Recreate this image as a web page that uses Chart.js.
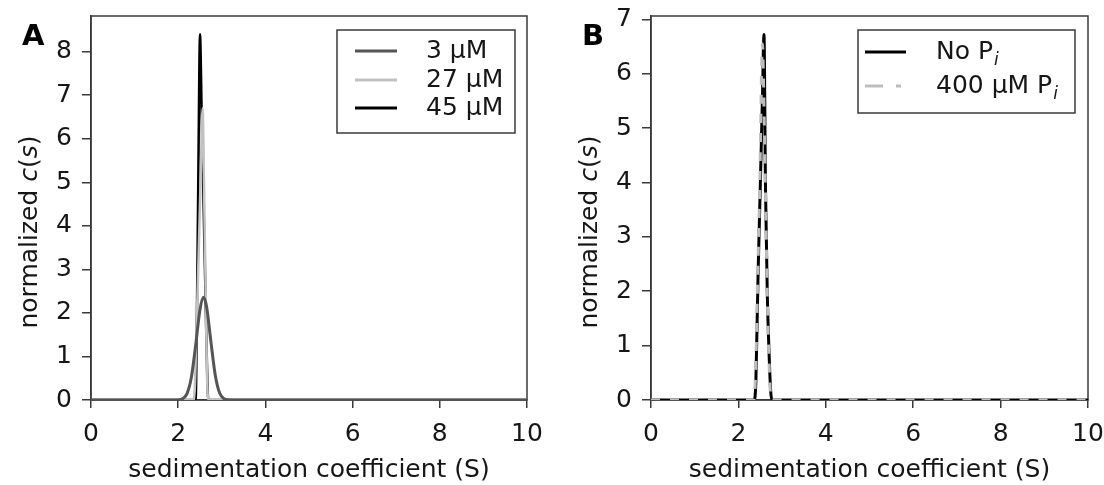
<!DOCTYPE html>
<html><head><meta charset="utf-8">
<script src="https://cdn.jsdelivr.net/npm/chart.js@4.4.1/dist/chart.umd.min.js"></script>
<style>
html,body{margin:0;padding:0;background:#fff;overflow:hidden}
#wrap{position:relative;width:1104px;height:485px}
canvas{position:absolute;top:0}
#cA{left:0}
#cB{left:560px}
</style></head><body>
<div id="wrap"><canvas id="cA" width="560" height="485"></canvas><canvas id="cB" width="544" height="485"></canvas></div>
<script>
// ---- tick labels ----
const xTicks = [0, 2, 4, 6, 8, 10];
const yTicksA = [0, 1, 2, 3, 4, 5, 6, 7, 8];
const yTicksB = [0, 1, 2, 3, 4, 5, 6, 7];

// ---- Panel A series (sedimentation coefficient S, normalized c(s)) ----
const sA_3uM  = [0, 1.9, 2.0, 2.1, 2.2, 2.3, 2.4, 2.5, 2.58, 2.65, 2.75, 2.85, 2.95, 3.05, 3.15, 3.3, 10];
const cA_3uM  = [0, 0, 0.003, 0.03, 0.14, 0.51, 1.25, 2.08, 2.36, 2.15, 1.34, 0.57, 0.16, 0.03, 0.004, 0, 0];
const sA_27uM = [0, 2.34, 2.38, 2.42, 2.47, 2.52, 2.56, 2.60, 2.63, 2.66, 2.69, 10];
const cA_27uM = [0, 0, 0.25, 1.6, 3.4, 5.3, 6.7, 4.4, 2.5, 0.6, 0, 0];
const sA_45uM = [0, 2.40, 2.43, 2.46, 2.50, 2.54, 2.58, 2.62, 2.66, 2.69, 10];
const cA_45uM = [0, 0, 2.0, 5.0, 8.4, 6.5, 4.6, 2.7, 0.8, 0, 0];

// ---- Panel B series ----
const sB_noPi  = [0, 2.36, 2.40, 2.45, 2.50, 2.55, 2.585, 2.62, 2.66, 2.70, 2.74, 2.77, 10];
const cB_noPi  = [0, 0, 0.35, 2.3, 3.9, 5.55, 6.72, 3.9, 2.0, 0.9, 0.15, 0, 0];
const sB_400Pi = [0, 2.35, 2.39, 2.44, 2.49, 2.55, 2.59, 2.63, 2.67, 2.71, 2.75, 10];
const cB_400Pi = [0, 0, 0.4, 2.2, 4.0, 6.55, 5.2, 3.3, 1.6, 0.5, 0, 0];

const FONT = "'DejaVu Sans', 'Liberation Sans', Arial, sans-serif";
const TICK_SIZE = 25, TITLE_SIZE = 25;
const AXIS_COLOR = '#3a3a3a';
const TEXT_COLOR = '#161616';
Chart.defaults.font.family = FONT;
Chart.defaults.color = TEXT_COLOR;

function pts(xs, ys){ return xs.map((x, i) => ({x: x, y: ys[i]})); }

function drawRich(ctx, parts, x, y, align){
  let total = 0;
  const widths = parts.map(p => { ctx.font = p.font; const w = ctx.measureText(p.t).width; total += w; return w; });
  let cx = align === 'center' ? x - total / 2 : x;
  parts.forEach((p, i) => {
    ctx.font = p.font;
    ctx.textAlign = 'left';
    ctx.textBaseline = 'middle';
    ctx.fillText(p.t, cx + (p.dx || 0), y + (p.dy || 0));
    cx += widths[i] + (p.dx || 0);
  });
}

function panelPlugin(cfg){
  return {
    id: 'panel' + cfg.letter,
    beforeDatasetsDraw(chart){
      const ctx = chart.ctx, a = chart.chartArea;
      ctx.save();
      ctx.strokeStyle = AXIS_COLOR; ctx.lineWidth = 1.5;
      ctx.strokeRect(a.left, a.top, a.right - a.left, a.bottom - a.top);
      ctx.restore();
    },
    afterDraw(chart){
      const ctx = chart.ctx;
      ctx.save();
      // panel letter
      ctx.fillStyle = '#000';
      ctx.font = 'bold 29px ' + FONT;
      ctx.textAlign = 'left'; ctx.textBaseline = 'alphabetic';
      ctx.fillText(cfg.letter, 22, 45);
      // y title (rotated, italic c and s)
      ctx.fillStyle = TEXT_COLOR;
      ctx.translate(30, 232);
      ctx.rotate(-Math.PI / 2);
      const n = TITLE_SIZE + 'px ' + FONT, it = 'italic ' + TITLE_SIZE + 'px ' + FONT;
      drawRich(ctx, [{t:'normalized ', font:n}, {t:'c', font:it}, {t:'(', font:n}, {t:'s', font:it}, {t:')', font:n}], 0, 0, 'center');
      ctx.restore();
      // legend
      const L = cfg.legend;
      ctx.save();
      ctx.fillStyle = '#fff';
      ctx.fillRect(L.box[0], L.box[1], L.box[2] - L.box[0], L.box[3] - L.box[1]);
      ctx.strokeStyle = AXIS_COLOR; ctx.lineWidth = 1.5;
      ctx.strokeRect(L.box[0], L.box[1], L.box[2] - L.box[0], L.box[3] - L.box[1]);
      L.items.forEach(item => {
        ctx.beginPath();
        ctx.strokeStyle = item.color; ctx.lineWidth = 3;
        ctx.setLineDash(item.dash || []);
        ctx.moveTo(L.lineX[0], item.y); ctx.lineTo(L.lineX[1], item.y);
        ctx.stroke();
        ctx.setLineDash([]);
        ctx.fillStyle = TEXT_COLOR;
        drawRich(ctx, item.parts, L.textX, item.y, 'left');
      });
      ctx.restore();
    }
  };
}

function makeOptions(yMax, yTicks, padRight){
  return {
    responsive: false, animation: false, devicePixelRatio: 1,
    events: [],
    layout: {padding: {left: 0, top: 16, right: padRight, bottom: 0}},
    plugins: {legend: {display: false}, tooltip: {enabled: false}},
    elements: {point: {radius: 0}, line: {cubicInterpolationMode: 'monotone', borderCapStyle: 'butt', borderJoinStyle: 'round'}},
    scales: {
      x: {
        type: 'linear', min: 0, max: 10,
        afterBuildTicks: s => { s.ticks = xTicks.map(v => ({value: v})); },
        afterFit: s => { s.height = 85; s.paddingLeft = 0; s.paddingRight = 0; },
        grid: {drawOnChartArea: false, drawTicks: true, tickLength: 8, color: AXIS_COLOR, lineWidth: 1.5},
        border: {display: true, color: AXIS_COLOR, width: 1.5},
        ticks: {font: {size: TICK_SIZE}, padding: 11, maxRotation: 0, autoSkip: false, color: TEXT_COLOR},
        title: {display: true, text: 'sedimentation coefficient (S)', font: {size: TITLE_SIZE}, padding: {top: 0, bottom: 0}, color: TEXT_COLOR}
      },
      y: {
        type: 'linear', min: 0, max: yMax,
        afterBuildTicks: s => { s.ticks = yTicks.map(v => ({value: v})); },
        afterFit: s => { s.width = 91; s.paddingTop = 0; s.paddingBottom = 0; },
        grid: {drawOnChartArea: false, drawTicks: true, tickLength: 9, color: AXIS_COLOR, lineWidth: 1.5},
        border: {display: true, color: AXIS_COLOR, width: 1.5},
        ticks: {font: {size: TICK_SIZE}, padding: 10, autoSkip: false, color: TEXT_COLOR}
      }
    }
  };
}

const nF = TICK_SIZE + 'px ' + FONT;
const subF = 'italic 17px ' + FONT;

new Chart(document.getElementById('cA'), {
  type: 'line',
  data: {datasets: [
    {label: '3 µM', data: pts(sA_3uM, cA_3uM), borderColor: '#555555', borderWidth: 3, fill: false},
    {label: '27 µM', data: pts(sA_27uM, cA_27uM), borderColor: '#c2c2c2', borderWidth: 2.5, fill: false},
    {label: '45 µM', data: pts(sA_45uM, cA_45uM), borderColor: '#000000', borderWidth: 2.5, fill: false}
  ]},
  options: makeOptions(8.82, yTicksA, 33),
  plugins: [panelPlugin({letter: 'A', legend: {
    box: [337, 30, 515, 133], lineX: [355, 397], textX: 426,
    items: [
      {y: 51, color: '#555555', parts: [{t: '3 µM', font: nF}]},
      {y: 80, color: '#c2c2c2', parts: [{t: '27 µM', font: nF}]},
      {y: 108, color: '#000000', parts: [{t: '45 µM', font: nF}]}
    ]}})]
});

new Chart(document.getElementById('cB'), {
  type: 'line',
  data: {datasets: [
    {label: 'No Pi', data: pts(sB_noPi, cB_noPi), borderColor: '#000000', borderWidth: 3, fill: false, order: 1},
    {label: '400 µM Pi', data: pts(sB_400Pi, cB_400Pi), borderColor: '#bdbdbd', borderWidth: 3, borderDash: [9, 10], fill: false, order: 0}
  ]},
  options: makeOptions(7.06, yTicksB, 16),
  plugins: [panelPlugin({letter: 'B', legend: {
    box: [298, 30, 515, 113], lineX: [305, 346], textX: 376,
    items: [
      {y: 52, color: '#000000', parts: [{t: 'No P', font: nF}, {t: 'i', font: subF, dy: 9, dx: 1}]},
      {y: 86, color: '#bdbdbd', dash: [18, 13, 5, 100], parts: [{t: '400 µM P', font: nF}, {t: 'i', font: subF, dy: 9, dx: 1}]}
    ]}})]
});
</script>
</body></html>
